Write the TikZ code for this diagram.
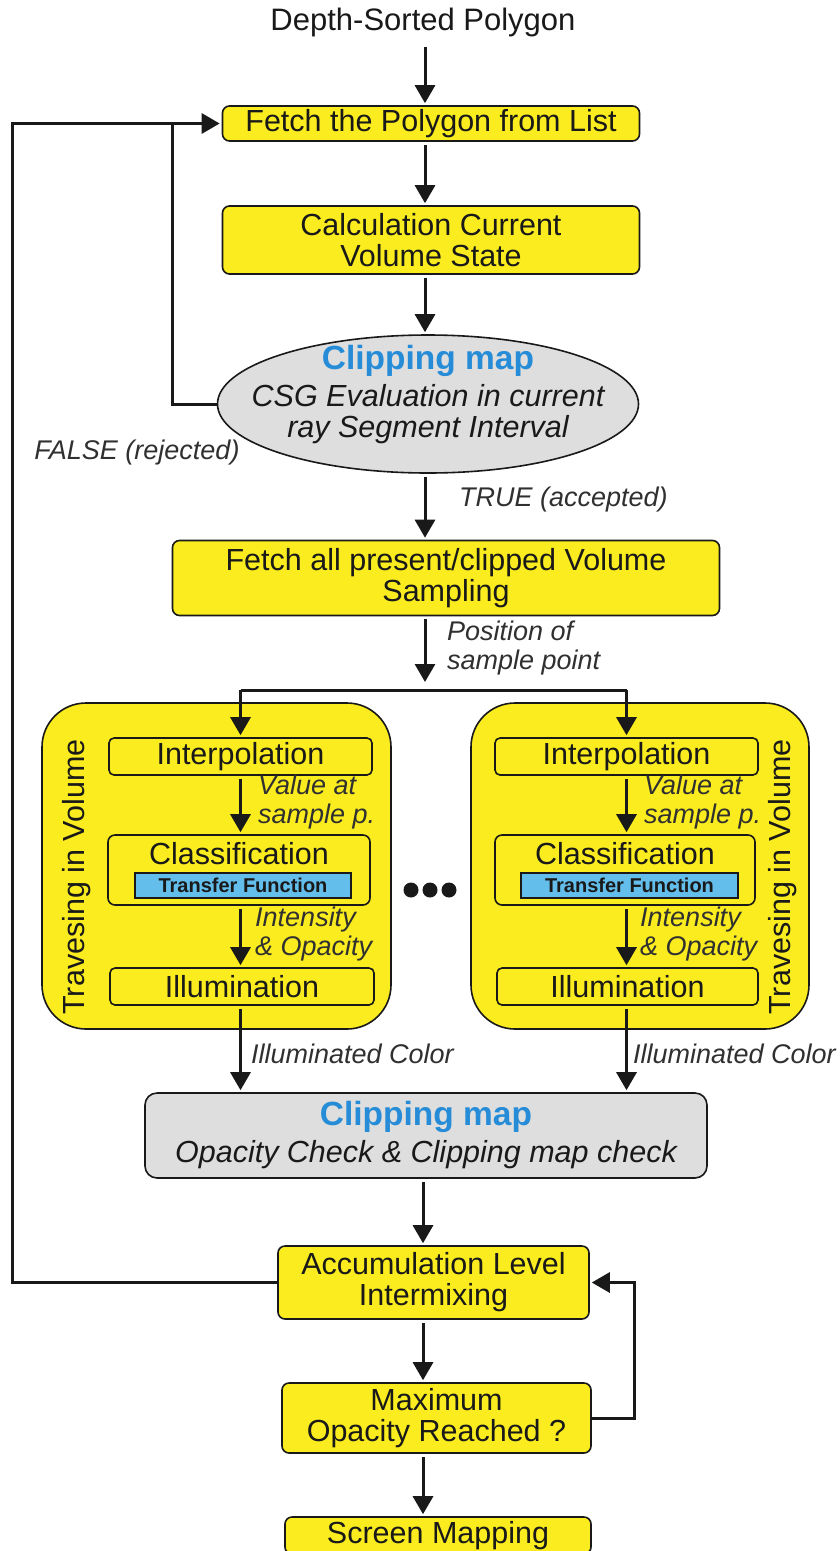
\documentclass[tikz,border=0pt]{standalone}
\usepackage{fontspec}
\setmainfont{Liberation Sans}
\usetikzlibrary{arrows.meta,shapes.geometric}
\definecolor{ylw}{RGB}{250,236,30}
\definecolor{gry}{RGB}{222,222,222}
\definecolor{blu}{RGB}{38,140,215}
\definecolor{lblu}{RGB}{100,190,235}
\definecolor{ink}{RGB}{25,25,25}
\begin{document}
\begin{tikzpicture}[x=1pt,y=-1pt,
  box/.style={draw=ink, line width=1.6pt, fill=ylw, rounded corners=7pt, align=center,
    text=ink, font=\fontsize{30.5}{31}\selectfont, inner sep=0pt},
  bigbox/.style={draw=ink, line width=1.6pt, fill=ylw, rounded corners=44pt, inner sep=0pt},
  txt/.style={text=ink, font=\fontsize{30.5}{31}\selectfont, inner sep=0pt, align=center},
  arr/.style={draw=ink, line width=3pt, -{Triangle[length=18pt,width=20pt]}, shorten <=3pt, shorten >=2pt},
  ln/.style={draw=ink, line width=3pt},
  lab/.style={font=\itshape\fontsize{27}{28.5}\selectfont, text=ink!90, align=left, anchor=west, inner sep=0pt},
  cmap/.style={font=\bfseries\fontsize{33.5}{34}\selectfont, text=blu, inner sep=0pt},
  tfbox/.style={draw=ink, line width=1.4pt, fill=lblu, inner sep=0pt, font=\bfseries\fontsize{20}{21}\selectfont, text=ink},
]
\useasboundingbox (0,0) rectangle (839,1551);
\clip (0,0) rectangle (839,1551);
\fill[white] (0,0) rectangle (839,1551);

\coordinate (cx) at (425,0);
\coordinate (cy) at (423,0);
\coordinate (oL) at (12,0);
\coordinate (iL) at (172,0);
\coordinate (oR) at (634,0);
\coordinate (sp) at (425,690);

% main column
\node[txt, font=\fontsize{31}{32}\selectfont] (top) at (423,22) {Depth-Sorted Polygon};
\node[box, minimum width=417pt, minimum height=35pt] (box1) at (431,123.5) {Fetch the Polygon from List};
\node[box, minimum width=417pt, minimum height=68pt] (box2) at (431,240) {Calculation Current\\Volume State};
\node[draw=ink, line width=1.6pt, fill=gry, ellipse, minimum width=421pt, minimum height=138pt, inner sep=0pt] (ell) at (428,404) {};
\node[cmap] (ellt) at (428,361) {Clipping map};
\node[txt, font=\itshape\fontsize{30.5}{31}\selectfont] (ellb) at (428,414) {CSG Evaluation in current\\ray Segment Interval};
\node[box, minimum width=547pt, minimum height=75pt] (box3) at (446,578) {Fetch all present/clipped Volume\\Sampling};

% two branches
\node[bigbox, minimum width=349pt, minimum height=326pt] (bigL) at (216.5,866) {};
\node[bigbox, minimum width=338pt, minimum height=326pt] (bigR) at (640,866) {};
\node[txt, rotate=90, font=\fontsize{30.5}{31}\selectfont] (travL) at (77,877) {Travesing in Volume};
\node[txt, rotate=90, font=\fontsize{30.5}{31}\selectfont] (travR) at (783,877) {Travesing in Volume};

\node[box, rounded corners=5pt, minimum width=263pt, minimum height=37pt] (intL) at (240.5,756.5) {Interpolation};
\node[box, rounded corners=5pt, minimum width=263pt, minimum height=37pt] (intR) at (626.5,756.5) {Interpolation};
\node[box, rounded corners=7pt, minimum width=262pt, minimum height=70pt] (clsL) at (239,870) {};
\node[box, rounded corners=7pt, minimum width=260pt, minimum height=70pt] (clsR) at (625,870) {};
\node[txt] (clsLt) at (239,854) {Classification};
\node[txt] (clsRt) at (625,854) {Classification};
\node[tfbox, minimum width=216pt, minimum height=25pt] (tfL) at (243,885.5) {Transfer Function};
\node[tfbox, minimum width=217pt, minimum height=25pt] (tfR) at (629.5,885.5) {Transfer Function};
\node[box, rounded corners=5pt, minimum width=264pt, minimum height=37pt] (ilL) at (242,986.5) {Illumination};
\node[box, rounded corners=5pt, minimum width=261pt, minimum height=37pt] (ilR) at (627.5,986.5) {Illumination};

\fill[ink] (411,890) circle (7.5pt) (430,890) circle (7.5pt) (449,890) circle (7.5pt);

\node[draw=ink, line width=1.6pt, fill=gry, rounded corners=12pt, minimum width=562pt, minimum height=85pt, inner sep=0pt] (chk) at (426,1135.5) {};
\node[cmap] (chkt) at (426,1117) {Clipping map};
\node[txt, font=\itshape\fontsize{30.5}{31}\selectfont] (chkb) at (426,1155) {Opacity Check \& Clipping map check};

\node[box, minimum width=311pt, minimum height=73pt] (acc) at (433.5,1282.5) {Accumulation Level\\Intermixing};
\node[box, minimum width=309pt, minimum height=70pt] (max) at (436.5,1418) {Maximum\\Opacity Reached ?};
\node[box, minimum width=306pt, minimum height=37pt] (scr) at (438,1535.5) {Screen Mapping};

% connectors
\draw[arr, shorten <=10pt] (top.south -| cx) -- (box1.north -| cx);
\draw[arr] (box1.south -| cx) -- (box2.north -| cx);
\draw[arr] (box2.south -| cx) -- (ell.north -| cx);
\draw[arr] (ell.south -| cx) -- (box3.north -| cx);
\draw[arr, shorten >=8pt] (box3.south -| cx) -- (sp);
\draw[ln] (sp -| intL.north) -- (sp -| intR.north);
\draw[arr, shorten <=0pt] (sp -| intL.north) -- (intL.north);
\draw[arr, shorten <=0pt] (sp -| intR.north) -- (intR.north);
\draw[arr] (intL.south) -- (clsL.north -| intL.south);
\draw[arr] (intR.south) -- (clsR.north -| intR.south);
\draw[arr] (clsL.south -| intL.south) -- (ilL.north -| intL.south);
\draw[arr] (clsR.south -| intR.south) -- (ilR.north -| intR.south);
\draw[arr] (ilL.south -| intL.south) -- (chk.north -| intL.south);
\draw[arr] (ilR.south -| intR.south) -- (chk.north -| intR.south);
\draw[arr] (chk.south -| cy) -- (acc.north -| cy);
\draw[arr] (acc.south -| cy) -- (max.north -| cy);
\draw[arr] (max.south -| cy) -- (scr.north -| cy);

% loops
\draw[ln] (ell.west) -- (ell.west -| iL) -- (box1.west -| iL);
\draw[arr, shorten <=0pt] (acc.west) -- (acc.west -| oL) -- (box1.west -| oL) -- (box1.west);
\draw[arr, shorten <=0pt] (max.east) -- (max.east -| oR) -- (acc.east -| oR) -- (acc.east);

% labels
\node[lab, anchor=center] (lfalse) at (137,453) {FALSE (rejected)};
\node[lab] (ltrue) at (459,500) {TRUE (accepted)};
\node[lab] (lpos) at (447,648) {Position of\\sample point};
\node[lab] (lvalL) at (258,802) {Value at\\sample p.};
\node[lab] (lvalR) at (644,802) {Value at\\sample p.};
\node[lab] (lintL) at (255,934) {Intensity\\\& Opacity};
\node[lab] (lintR) at (640,934) {Intensity\\\& Opacity};
\node[lab] (lilL) at (251,1054) {Illuminated Color};
\node[lab] (lilR) at (633,1054) {Illuminated Color};
\end{tikzpicture}
\end{document}
